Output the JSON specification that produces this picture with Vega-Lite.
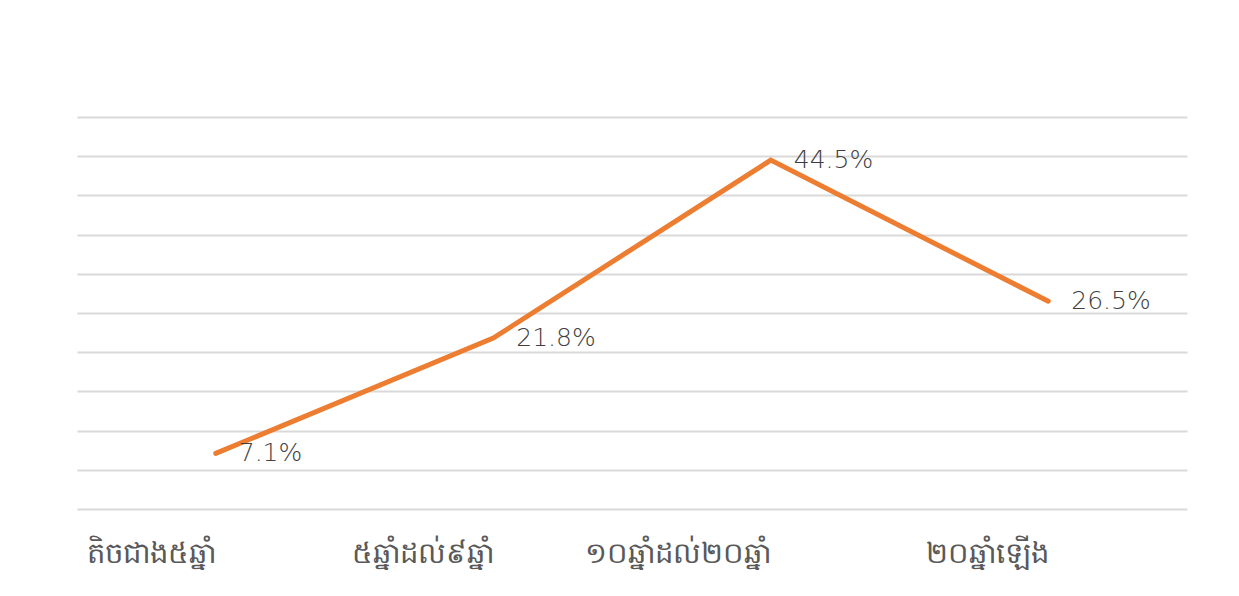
{
  "$schema": "https://vega.github.io/schema/vega-lite/v6.json",
  "autosize": {"type": "none"},
  "padding": {"left": 77, "top": 117, "right": 52, "bottom": 87},
  "width": 1110,
  "height": 392,
  "background": "white",
  "config": {"view": {"stroke": null}},
  "data": {
    "values": [
      {"category": "តិចជាង៥ឆ្នាំ", "share": 0.071},
      {"category": "៥ឆ្នាំដល់៩ឆ្នាំ", "share": 0.218},
      {"category": "១០ឆ្នាំដល់២០ឆ្នាំ", "share": 0.445},
      {"category": "២០ឆ្នាំឡើង", "share": 0.265}
    ]
  },
  "encoding": {
    "x": {
      "field": "category",
      "type": "nominal",
      "sort": null,
      "scale": {"type": "point", "padding": 0.5},
      "axis": {
        "title": null,
        "domain": false,
        "ticks": false,
        "grid": false,
        "labelAngle": 0,
        "labelAlign": "right",
        "labelBaseline": "middle",
        "labelPadding": 44,
        "labelLimit": 0,
        "labelOverlap": false,
        "labelFont": "Noto Sans",
        "labelFontWeight": 300,
        "labelFontSize": 29,
        "labelColor": "#595959"
      }
    },
    "y": {
      "field": "share",
      "type": "quantitative",
      "scale": {"domain": [0, 0.5], "nice": false, "zero": true},
      "axis": {
        "title": null,
        "labels": false,
        "ticks": false,
        "domain": false,
        "values": [0, 0.05, 0.1, 0.15, 0.2, 0.25, 0.3, 0.35, 0.4, 0.45, 0.5],
        "gridColor": "#d9d9d9",
        "gridWidth": 2
      }
    }
  },
  "layer": [
    {
      "mark": {"type": "line", "color": "#ED7D31", "strokeWidth": 5, "strokeCap": "round", "strokeJoin": "miter"}
    },
    {
      "mark": {"type": "text", "align": "left", "baseline": "middle", "dx": 23, "font": "DejaVu Sans", "fontWeight": 300, "fontSize": 25, "color": "#404040"},
      "encoding": {
        "text": {"field": "share", "type": "quantitative", "format": ".1%"}
      }
    }
  ]
}
